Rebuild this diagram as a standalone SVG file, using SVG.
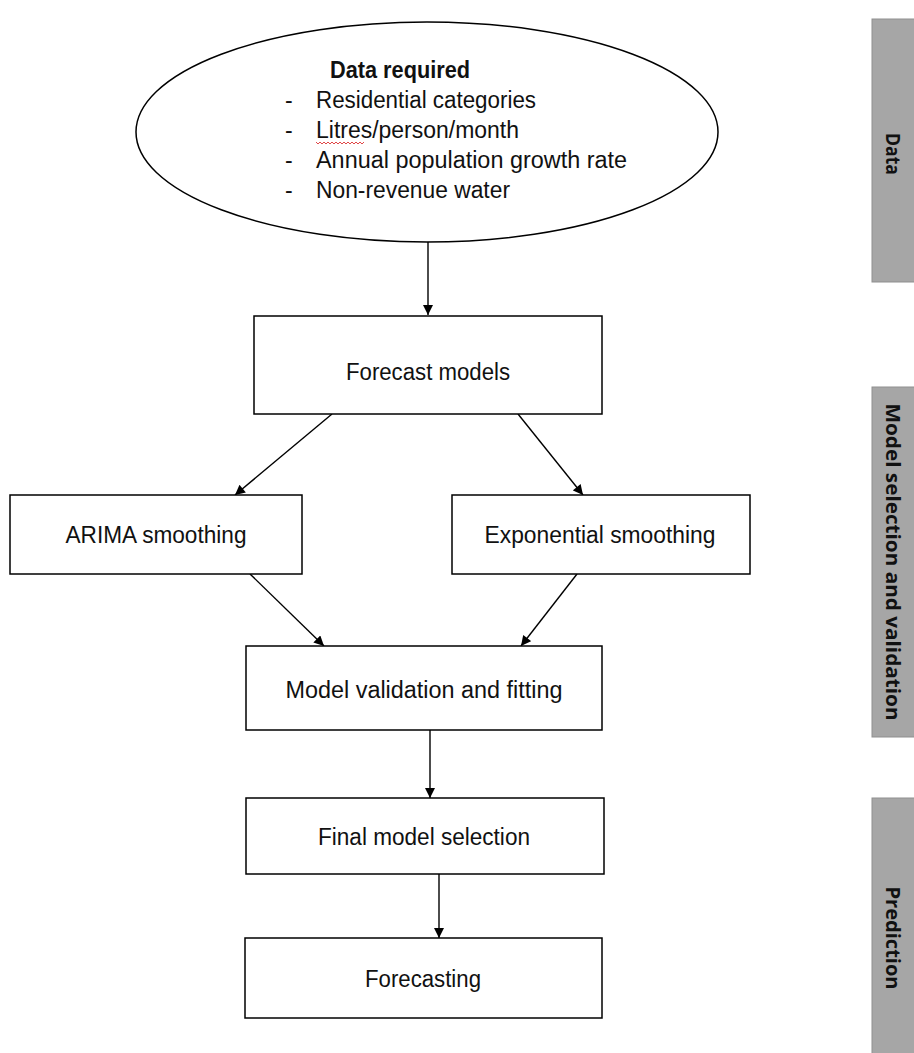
<svg xmlns="http://www.w3.org/2000/svg" width="914" height="1053" viewBox="0 0 914 1053">
<style>
.box{fill:#fff;stroke:#000;stroke-width:1.5}
.t{font-family:"Liberation Sans",Arial,sans-serif;font-size:23px;fill:#111}
.tc{text-anchor:middle}
.b{font-weight:bold}
.side{fill:#a6a6a6;stroke:#8f8f8f;stroke-width:1}
.st{font-family:"Open Sans","DejaVu Sans",sans-serif;font-weight:bold;font-size:20px;fill:#111;text-anchor:middle}
.c{stroke:#000;stroke-width:1.4;fill:none;marker-end:url(#ah)}
</style>
<defs>
<marker id="ah" viewBox="0 0 10 10" refX="10" refY="5" markerWidth="11" markerHeight="10" markerUnits="userSpaceOnUse" orient="auto">
<path d="M0,0 L10,5 L0,10 z" fill="#000"/>
</marker>
</defs>
<rect width="914" height="1053" fill="#fff"/>

<g id="side-data">
<rect class="side" x="872" y="19" width="44" height="263"/>
<text class="st" transform="translate(893,154) rotate(90)" dy="7" textLength="42" lengthAdjust="spacingAndGlyphs">Data</text>
</g>
<g id="side-model">
<rect class="side" x="872" y="387" width="44" height="350"/>
<text class="st" transform="translate(893,562) rotate(90)" dy="7" textLength="317" lengthAdjust="spacingAndGlyphs">Model selection and validation</text>
</g>
<g id="side-prediction">
<rect class="side" x="872" y="798" width="44" height="260"/>
<text class="st" transform="translate(893,938) rotate(90)" dy="7" textLength="103" lengthAdjust="spacingAndGlyphs">Prediction</text>
</g>

<g id="connectors">
<line class="c" x1="428" y1="242" x2="428" y2="315"/>
<line class="c" x1="332" y1="414" x2="235" y2="495"/>
<line class="c" x1="518" y1="414" x2="583" y2="495"/>
<line class="c" x1="250" y1="574" x2="324" y2="646"/>
<line class="c" x1="577" y1="574" x2="521" y2="646"/>
<line class="c" x1="430" y1="730" x2="430" y2="798"/>
<line class="c" x1="439" y1="874" x2="439" y2="938"/>
</g>

<g id="data-required">
<ellipse cx="427" cy="132" rx="291" ry="110" fill="#fff" stroke="#000" stroke-width="1.5"/>
<text class="t b" x="330" y="78" textLength="140" lengthAdjust="spacingAndGlyphs">Data required</text>
<text class="t" x="285" y="108">-</text>
<text class="t" x="316" y="108" textLength="220" lengthAdjust="spacingAndGlyphs">Residential categories</text>
<text class="t" x="285" y="138">-</text>
<text class="t" x="316" y="138" textLength="203" lengthAdjust="spacingAndGlyphs">Litres/person/month</text>
<path d="M316,142 l2,2 l2,-2 l2,2 l2,-2 l2,2 l2,-2 l2,2 l2,-2 l2,2 l2,-2 l2,2 l2,-2 l2,2 l2,-2 l2,2 l2,-2 l2,2 l2,-2 l2,2 l2,-2 l2,2 l2,-2 l2,2 l2,-2" fill="none" stroke="#d33" stroke-width="0.9"/>
<text class="t" x="285" y="168">-</text>
<text class="t" x="316" y="168" textLength="311" lengthAdjust="spacingAndGlyphs">Annual population growth rate</text>
<text class="t" x="285" y="198">-</text>
<text class="t" x="316" y="198" textLength="194" lengthAdjust="spacingAndGlyphs">Non-revenue water</text>
</g>

<g id="forecast-models">
<rect class="box" x="254" y="316" width="348" height="98"/>
<text class="t tc" x="428" y="380" textLength="164" lengthAdjust="spacingAndGlyphs">Forecast models</text>
</g>
<g id="arima">
<rect class="box" x="10" y="495" width="292" height="79"/>
<text class="t tc" x="156" y="543" textLength="181" lengthAdjust="spacingAndGlyphs">ARIMA smoothing</text>
</g>
<g id="exponential">
<rect class="box" x="452" y="495" width="298" height="79"/>
<text class="t tc" x="600" y="543" textLength="231" lengthAdjust="spacingAndGlyphs">Exponential smoothing</text>
</g>
<g id="validation">
<rect class="box" x="246" y="646" width="356" height="84"/>
<text class="t tc" x="424" y="698" textLength="277" lengthAdjust="spacingAndGlyphs">Model validation and fitting</text>
</g>
<g id="final">
<rect class="box" x="246" y="798" width="358" height="76"/>
<text class="t tc" x="424" y="845" textLength="212" lengthAdjust="spacingAndGlyphs">Final model selection</text>
</g>
<g id="forecasting">
<rect class="box" x="245" y="938" width="357" height="80"/>
<text class="t tc" x="423" y="987" textLength="116" lengthAdjust="spacingAndGlyphs">Forecasting</text>
</g>
</svg>
